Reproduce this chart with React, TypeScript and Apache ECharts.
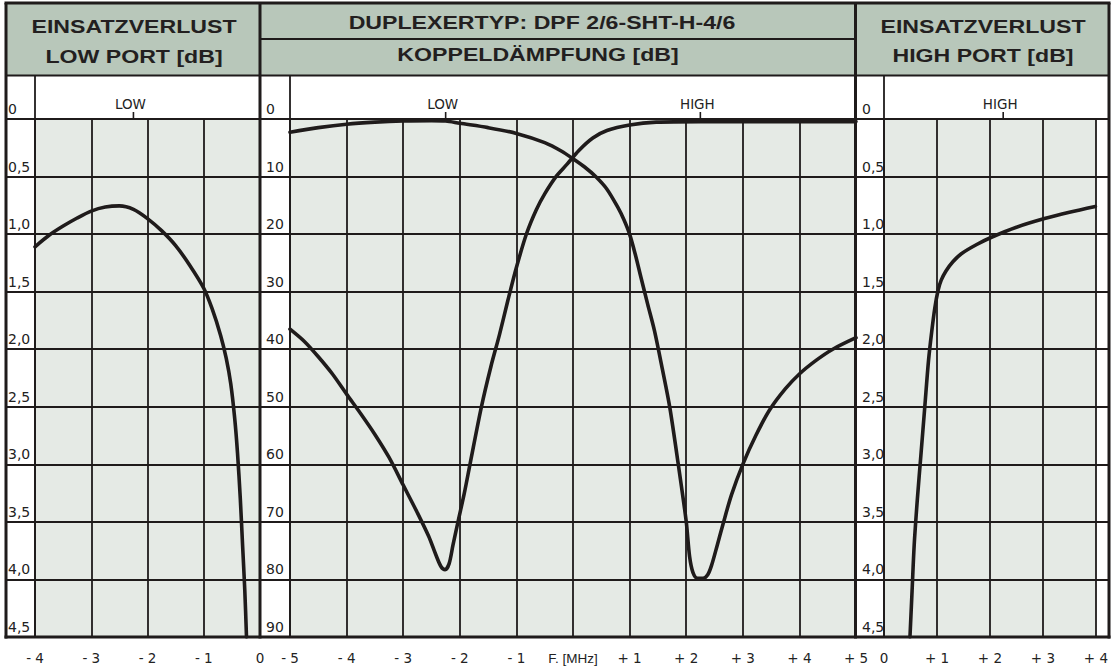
import { useEffect, useRef } from 'react';
import * as echarts from 'echarts';

// ---- tick labels ----
const lowFreqLabels = ['- 4', '- 3', '- 2', '- 1', '0'];
const midFreqLabels = ['- 5', '- 4', '- 3', '- 2', '- 1', 'F. [MHz]', '+ 1', '+ 2', '+ 3', '+ 4', '+ 5'];
const highFreqLabels = ['0', '+ 1', '+ 2', '+ 3', '+ 4'];
const lossTickLabels = ['0', '0,5', '1,0', '1,5', '2,0', '2,5', '3,0', '3,5', '4,0', '4,5'];
const couplingTickLabels = ['0', '10', '20', '30', '40', '50', '60', '70', '80', '90'];

// ---- channel markers ----
const lowChannel = { name: 'LOW', freq: -2.25 };
const highChannel = { name: 'HIGH', freq: 2.25 };

// ---- curves: [frequency offset MHz, dB] ----
const lowPortLoss: [number, number][] = [
  [-4, 1.11], [-3.75, 1.01], [-3.5, 0.93], [-3.25, 0.86], [-3.0, 0.8], [-2.75, 0.765],
  [-2.5, 0.755], [-2.25, 0.785], [-2.0, 0.865], [-1.75, 0.97], [-1.5, 1.1], [-1.25, 1.27],
  [-1.0, 1.47], [-0.85, 1.65], [-0.7, 1.88], [-0.6, 2.08], [-0.52, 2.3], [-0.45, 2.6],
  [-0.4, 2.9], [-0.35, 3.3], [-0.31, 3.7], [-0.27, 4.1], [-0.24, 4.5],
];

const couplingLowPass: [number, number][] = [
  [-5, 2.3], [-4.5, 1.5], [-4, 0.9], [-3.5, 0.55], [-3, 0.35], [-2.5, 0.3], [-2.25, 0.35],
  [-2, 0.75], [-1.5, 1.5], [-1, 2.5], [-0.5, 4.1], [-0.2, 5.6], [0, 6.9], [0.2, 8.3],
  [0.4, 10.0], [0.6, 12.2], [0.8, 15.5], [0.9, 17.5], [1.0, 20.0], [1.1, 23.5], [1.2, 27.5],
  [1.32, 32.2], [1.44, 36.8], [1.58, 43.5], [1.71, 50.1], [1.86, 60], [2.0, 69.9], [2.06, 76.0],
  [2.12, 78.8], [2.2, 79.8], [2.3, 79.8], [2.38, 79.2], [2.45, 77.5], [2.55, 74], [2.65, 70.4],
  [2.8, 65.3], [3.0, 60], [3.23, 55.0], [3.47, 50.6], [3.75, 46.9], [4.0, 44.3], [4.3, 41.9],
  [4.59, 40.0], [5, 38.0],
];

const couplingHighPass: [number, number][] = [
  [-5, 36.5], [-4.75, 38.6], [-4.5, 41.3], [-4.25, 44.3], [-4.0, 47.8], [-3.75, 51.2],
  [-3.5, 54.8], [-3.25, 58.8], [-3.0, 63.6], [-2.75, 68.4], [-2.55, 72.5], [-2.42, 75.8],
  [-2.33, 77.8], [-2.26, 78.3], [-2.19, 77.3], [-2.12, 74.0], [-2.03, 69.9], [-1.92, 65],
  [-1.82, 60], [-1.62, 50.1], [-1.45, 43], [-1.3, 37.5], [-1.15, 31.5], [-1.0, 25.8],
  [-0.82, 19.9], [-0.65, 15.8], [-0.5, 13.0], [-0.3, 10.0], [-0.1, 7.8], [0.1, 5.5],
  [0.35, 3.3], [0.6, 2.0], [1.0, 1.05], [1.47, 0.55], [2.25, 0.45], [5, 0.45],
];

const highPortLoss: [number, number][] = [
  [0.49, 4.5], [0.53, 4.1], [0.57, 3.7], [0.63, 3.3], [0.7, 2.9], [0.77, 2.5], [0.84, 2.1],
  [0.9, 1.85], [0.96, 1.64], [1.02, 1.49], [1.08, 1.4], [1.17, 1.32], [1.3, 1.24],
  [1.46, 1.17], [1.75, 1.09], [2.04, 1.025], [2.5, 0.94], [3.03, 0.865], [3.5, 0.81], [3.99, 0.76],
];

const INK = '#1f1b1b';
const HEADER = '#b8c7ba';
const PLOT_BG = '#e5eae5';
const TICK_FONT = "'DejaVu Sans', sans-serif";
const HEAD_FONT = "'Liberation Sans', Arial, sans-serif";

export default function App() {
  const ref = useRef<HTMLDivElement>(null);

  useEffect(() => {
    if (!ref.current) return;
    const chart = echarts.init(ref.current, undefined, { renderer: 'svg' });

    const top = 119;
    const height = 518;
    const panels = [
      { left: 35, width: 225 },
      { left: 290, width: 566 },
      { left: 884, width: 225 },
    ];

    const grids: any[] = panels.map((p) => ({
      left: p.left, width: p.width, top, height,
      show: true, backgroundColor: PLOT_BG, borderWidth: 0,
    }));
    grids.push({ left: 6, width: 1103, top, height, show: false });

    const splitStyle = { show: true, lineStyle: { color: INK, width: 1.8 } };
    const xLabelBase = { fontSize: 13.5, color: '#222', fontFamily: TICK_FONT, margin: 14 };

    const xAxes: any[] = [
      {
        gridIndex: 0, type: 'value', min: -4, max: 0, interval: 1,
        axisLine: { show: false }, axisTick: { show: false }, splitLine: splitStyle,
        axisLabel: { ...xLabelBase, formatter: (v: number) => lowFreqLabels[Math.round(v + 4)] },
      },
      {
        gridIndex: 1, type: 'value', min: -5, max: 5, interval: 1,
        axisLine: { show: false }, axisTick: { show: false }, splitLine: splitStyle,
        axisLabel: {
          ...xLabelBase,
          formatter: (v: number) => {
            const s = midFreqLabels[Math.round(v + 5)];
            return s.startsWith('F') ? '{f|' + s + '}' : s;
          },
          rich: { f: { fontFamily: HEAD_FONT, fontSize: 13.5, color: '#222' } },
        },
      },
      {
        gridIndex: 2, type: 'value', min: 0, max: 4, interval: 1,
        axisLine: { show: false }, axisTick: { show: false }, splitLine: splitStyle,
        axisLabel: { ...xLabelBase, formatter: (v: number) => highFreqLabels[Math.round(v)] },
      },
      { gridIndex: 3, type: 'value', min: 0, max: 1, show: false },
    ];

    const yLabelBase = {
      fontSize: 14, color: '#222', fontFamily: TICK_FONT,
      align: 'left', verticalAlign: 'bottom', padding: [0, 0, 3, 0],
    };
    const yAxes: any[] = [
      {
        gridIndex: 0, type: 'value', inverse: true, min: 0, max: 4.5, interval: 0.5,
        axisLine: { show: false }, axisTick: { show: false }, splitLine: { show: false },
        axisLabel: { ...yLabelBase, margin: 27, formatter: (v: number) => lossTickLabels[Math.round(v * 2)] },
      },
      {
        gridIndex: 1, type: 'value', inverse: true, min: 0, max: 90, interval: 10,
        axisLine: { show: false }, axisTick: { show: false }, splitLine: { show: false },
        axisLabel: { ...yLabelBase, margin: 24, formatter: (v: number) => couplingTickLabels[Math.round(v / 10)] },
      },
      {
        gridIndex: 2, type: 'value', inverse: true, min: 0, max: 4.5, interval: 0.5,
        axisLine: { show: false }, axisTick: { show: false }, splitLine: { show: false },
        axisLabel: { ...yLabelBase, margin: 22, formatter: (v: number) => lossTickLabels[Math.round(v * 2)] },
      },
      {
        gridIndex: 3, type: 'value', inverse: true, min: 0, max: 9, interval: 1,
        axisLine: { show: false }, axisTick: { show: false }, axisLabel: { show: false },
        splitLine: splitStyle,
      },
    ];

    const marker = (ch: { name: string; freq: number }) => ({
      symbol: 'rect',
      symbolSize: [1.6, 7],
      symbolOffset: [0, -3.5],
      itemStyle: { color: INK },
      label: {
        show: true, position: 'top', distance: 1, offset: [-3, 0],
        fontSize: 13.5, fontFamily: TICK_FONT, color: '#222', formatter: ch.name,
      },
      data: [{ coord: [ch.freq, 0] }],
    });

    const curve = (data: [number, number][], xi: number, mark?: any) => ({
      type: 'line', xAxisIndex: xi, yAxisIndex: xi, data,
      showSymbol: false, smooth: 0.3,
      lineStyle: { color: INK, width: 3.6, cap: 'round', join: 'round' },
      z: 5,
      ...(mark ? { markPoint: mark } : {}),
    });

    const headText = (text: string, x: number, y: number) => ({
      type: 'text', x, y, scaleX: 1.25, z: 20,
      style: {
        text, x: 0, y: 0, fill: '#231f20', fontFamily: HEAD_FONT, fontWeight: 'bold', fontSize: 18.5,
        align: 'center', verticalAlign: 'middle',
      },
    });
    const ln = (x1: number, y1: number, x2: number, y2: number, w: number) => ({
      type: 'line', z: 30, shape: { x1, y1, x2, y2 }, style: { stroke: INK, lineWidth: w },
    });

    const graphic: any[] = [
      { type: 'rect', z: 1, shape: { x: 6, y: 3, width: 1103, height: 72 }, style: { fill: HEADER } },
      headText('EINSATZVERLUST', 134, 26.5),
      headText('LOW PORT [dB]', 134, 56),
      headText('DUPLEXERTYP: DPF 2/6-SHT-H-4/6', 542, 22.5),
      headText('KOPPELDÄMPFUNG [dB]', 538, 54.5),
      headText('EINSATZVERLUST', 983, 26),
      headText('HIGH PORT [dB]', 983, 55.5),
      // outer frame
      ln(4.5, 3, 1110.5, 3, 3),
      ln(4.5, 637, 1110.5, 637, 3),
      ln(6, 3, 6, 638.5, 3),
      ln(1109, 3, 1109, 638.5, 3),
      // header bottom and middle header divider
      ln(6, 75.5, 1109, 75.5, 2),
      ln(260, 39, 855.5, 39, 2),
      // panel dividers
      ln(260, 3, 260, 638.5, 3),
      ln(855.5, 3, 855.5, 638.5, 3),
      // label column borders
      ln(35, 75, 35, 637, 1.8),
      ln(290, 75, 290, 637, 1.8),
      ln(884, 75, 884, 637, 1.8),
    ];

    chart.setOption({
      animation: false,
      backgroundColor: '#ffffff',
      grid: grids,
      xAxis: xAxes,
      yAxis: yAxes,
      graphic,
      series: [
        curve(lowPortLoss, 0, marker(lowChannel)),
        curve(couplingLowPass, 1, marker(lowChannel)),
        curve(couplingHighPass, 1, marker(highChannel)),
        curve(highPortLoss, 2, marker(highChannel)),
        { type: 'line', xAxisIndex: 3, yAxisIndex: 3, data: [], showSymbol: false },
      ],
    });

    return () => chart.dispose();
  }, []);

  return (
    <div
      ref={ref}
      style={{ position: 'absolute', left: 0, top: 0, width: 1111, height: 672, background: '#fff' }}
    />
  );
}
